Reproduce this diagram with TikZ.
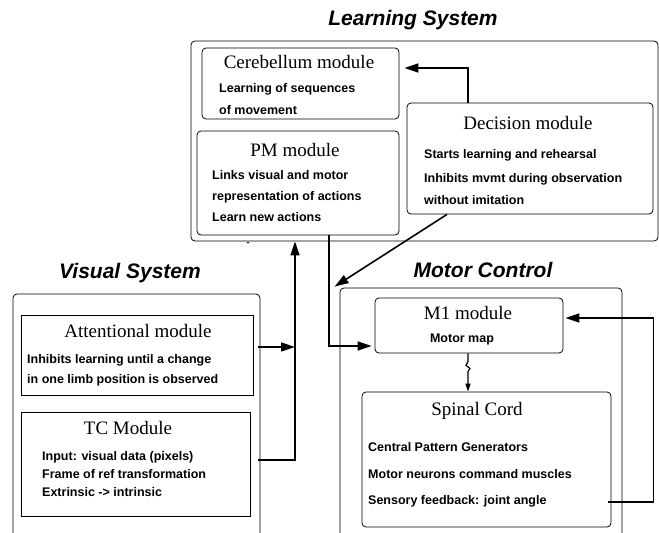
\documentclass[tikz,border=0pt]{standalone}
\usepackage{fontspec}
\setmainfont{Liberation Serif}
\setsansfont{Liberation Sans}
\usetikzlibrary{arrows.meta}

\begin{document}
\begin{tikzpicture}[x=1pt, y=-1pt]
\tikzstyle{modbox}=[draw, line width=0.8pt, rounded corners=4pt, inner sep=0pt]
\tikzstyle{sqbox}=[draw, line width=0.8pt, inner sep=0pt]
\tikzstyle{systitle}=[font=\sffamily\bfseries\itshape\fontsize{21}{25}\selectfont]
\tikzstyle{modtitle}=[font=\rmfamily\fontsize{19}{22}\selectfont, inner sep=0pt]
\tikzstyle{modtext}=[font=\sffamily\bfseries\fontsize{12.5}{15}\selectfont, anchor=west, inner sep=0pt]
\tikzstyle{arr}=[line width=1.6pt, -{Triangle[length=14pt, width=9pt]}]
\useasboundingbox (0,0) rectangle (659,533);
\clip (0,0) rectangle (659,533);

% system titles
\node[systitle] (lstitle) at (413,20) {Learning System};
\node[systitle] (vstitle) at (130,273) {Visual System};
\node[systitle] (mctitle) at (483,270) {Motor Control};

% outer boxes
\node[modbox, minimum width=467pt, minimum height=200pt] (learn) at (424.5,141) {};
\node[modbox, minimum width=247pt, minimum height=266pt] (vis) at (136.5,427) {};
\node[modbox, minimum width=282pt, minimum height=272pt] (motor) at (481,424) {};

% learning system
\node[modbox, minimum width=197pt, minimum height=71pt] (cereb) at (300.5,83.5) {};
\node[modtitle] (cerebt) at (299,62) {Cerebellum module};
\node[modtext] (cereb1) at (219,89) {Learning of sequences};
\node[modtext] (cereb2) at (219,110) {of movement};

\node[modbox, minimum width=202pt, minimum height=104pt] (pm) at (298,183) {};
\node[modtitle] (pmt) at (295,150) {PM module};
\node[modtext] (pm1) at (212,175) {Links visual and motor};
\node[modtext] (pm2) at (212,197) {representation of actions};
\node[modtext] (pm3) at (212,217) {Learn new actions};

\node[modbox, minimum width=246pt, minimum height=111pt] (dec) at (530,158.5) {};
\node[modtitle] (dect) at (528,123) {Decision module};
\node[modtext] (dec1) at (424,155) {Starts learning and rehearsal};
\node[modtext] (dec2) at (424,179) {Inhibits mvmt during observation};
\node[modtext] (dec3) at (424,200) {without imitation};

\node[font=\sffamily\bfseries\fontsize{9}{10}\selectfont, inner sep=0pt] (dash) at (248,244) {-};

% visual system
\node[sqbox, minimum width=232pt, minimum height=80pt] (att) at (137,355) {};
\node[modtitle] (attt) at (138,331) {Attentional module};
\node[modtext] (att1) at (27,360) {Inhibits learning until a change};
\node[modtext] (att2) at (27,380) {in one limb position is observed};

\node[sqbox, minimum width=229pt, minimum height=104pt] (tc) at (135.5,464) {};
\node[modtitle] (tct) at (128,428) {TC Module};
\node[modtext] (tc1) at (42,457) {Input: visual data (pixels)};
\node[modtext] (tc2) at (42,474) {Frame of ref transformation};
\node[modtext] (tc3) at (42,492) {Extrinsic -> intrinsic};

% motor control
\node[modbox, minimum width=188pt, minimum height=55pt] (m1) at (469,325.5) {};
\node[modtitle] (m1t) at (468,313) {M1 module};
\node[modtext, anchor=center] (m11) at (462,339) {Motor map};

\node[modbox, minimum width=249pt, minimum height=135pt] (spinal) at (486.5,459.5) {};
\node[modtitle] (spinalt) at (477,411) {Spinal Cord};
\node[modtext] (sp1) at (368,447) {Central Pattern Generators};
\node[modtext] (sp2) at (368,474) {Motor neurons command muscles};
\node[modtext] (sp3) at (368,501) {Sensory feedback: joint angle};

% connectors
\coordinate (bus) at (295,400);
\draw[arr] ([xshift=-62pt]dec.north) |- ([xshift=5pt,yshift=15.5pt]cereb.east);
\draw[arr] ([xshift=-83pt]dec.south) -- ([xshift=-5pt,yshift=1pt]motor.north west);
\draw[arr] ([xshift=5pt,yshift=8pt]att.east) coordinate (attout) -- (attout -| bus);
\draw[arr] ([xshift=8pt,yshift=4pt]tc.east) -| (bus |- learn.south);
\draw[arr] ([xshift=31pt]pm.south) |- ([xshift=-3pt,yshift=-20.5pt]m1.west);
\draw[line width=1.2pt, -{Triangle[length=8pt, width=5pt]}] ([xshift=-1pt]m1.south) -- ++(0,8) -- ++(-2,4) -- ++(4,3) -- ++(-2,3) -- ([xshift=-1pt]m1.south |- spinal.north);
\draw[arr] ([xshift=-3pt,yshift=-42.5pt]spinal.east) -- ++(45,0) |- ([xshift=2pt,yshift=7.5pt]m1.east);

\end{tikzpicture}
\end{document}
